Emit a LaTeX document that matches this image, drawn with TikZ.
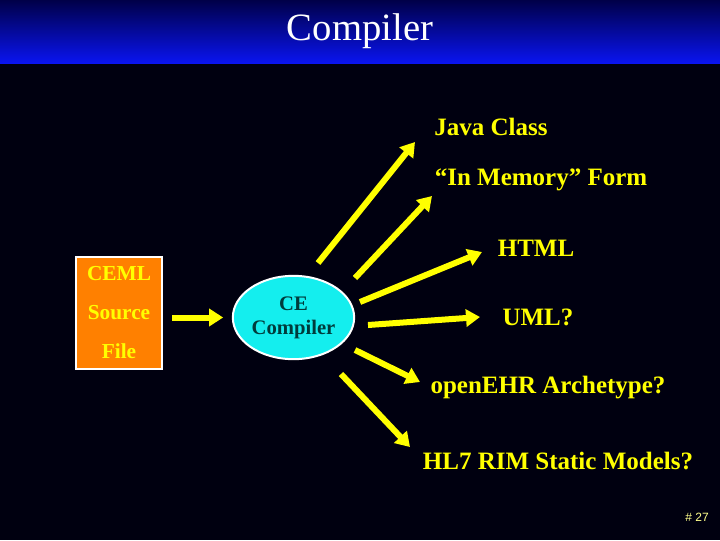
\documentclass[tikz,border=0pt]{standalone}
\usepackage{fontspec}
\setmainfont{Liberation Serif}
\newfontfamily\arialfont{Liberation Sans}
\usetikzlibrary{arrows.meta,shapes.geometric}
\definecolor{bgc}{RGB}{0,0,16}
\definecolor{hdrtop}{RGB}{0,0,72}
\definecolor{hdrbot}{RGB}{10,20,240}
\definecolor{yel}{RGB}{255,255,0}
\definecolor{orangebox}{RGB}{255,128,0}
\definecolor{cyanfill}{RGB}{20,238,238}
\definecolor{tealtext}{RGB}{0,60,60}
\definecolor{pagenum}{RGB}{255,255,140}
\tikzset{
  lbl/.style={text=yel, font=\bfseries\fontsize{18.75}{22}\selectfont, inner sep=0pt},
  yarr/.style={draw=yel, line width=4.5pt, -{Triangle[length=10.5pt,width=12.75pt]}},
}
\begin{document}
\begin{tikzpicture}[x=0.75pt,y=-0.75pt]
\fill[bgc] (0,0) rectangle (720,540);
\shade[top color=hdrtop,bottom color=hdrbot] (0,0) rectangle (720,63);
\useasboundingbox (0,0) rectangle (720,540);

\node[text=white, font=\fontsize{29}{34}\selectfont, inner sep=0pt] (title) at (360,31) {Compiler};

\node[draw=white, line width=2pt, fill=orangebox, minimum width=64.5pt, minimum height=84pt,
      text=yel, align=center, font=\bfseries\fontsize{16}{29.25}\selectfont, inner sep=0pt]
      (src) at (119,313) {CEML\\Source\\File};

\node[ellipse, draw=white, line width=1.5pt, fill=cyanfill, minimum width=91pt, minimum height=62.5pt,
      inner sep=0pt, text=tealtext, align=center, font=\bfseries\fontsize{15.5}{18}\selectfont]
      (ce) at (293.5,317.5) {CE\\Compiler};

\draw[yarr, shorten <=6.5pt, shorten >=6.5pt] (src.east |- ce.west) -- (ce.west);

\node[lbl] (java) at (491,127) {Java Class};
\node[lbl] (mem) at (541,180) {“In Memory” Form};
\node[lbl] (html) at (536,248) {HTML};
\node[lbl] (uml) at (538,317) {UML?};
\node[lbl] (ehr) at (548,388) {openEHR Archetype?};
\node[lbl] (hl7) at (558,461) {HL7 RIM Static Models?};

\coordinate (s1) at (318,263); \coordinate (e1) at (415,142);
\coordinate (s2) at (355,278); \coordinate (e2) at (432,196);
\coordinate (s3) at (360,302); \coordinate (e3) at (482,252);
\coordinate (s4) at (368,325); \coordinate (e4) at (480,317);
\coordinate (s5) at (355,350); \coordinate (e5) at (420,382);
\coordinate (s6) at (341,374); \coordinate (e6) at (410,447);

\draw[yarr] (s1) -- (e1);
\draw[yarr] (s2) -- (e2);
\draw[yarr] (s3) -- (e3);
\draw[yarr] (s4) -- (e4);
\draw[yarr] (s5) -- (e5);
\draw[yarr] (s6) -- (e6);

\node[text=pagenum, font=\arialfont\fontsize{9}{11}\selectfont, inner sep=0pt] (pg) at (697,517) {\# 27};
\end{tikzpicture}
\end{document}
